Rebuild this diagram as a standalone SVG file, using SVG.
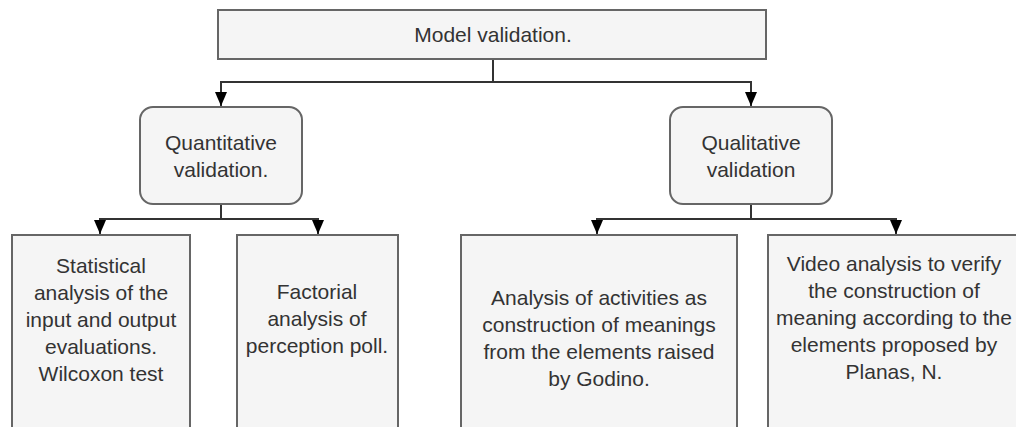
<svg xmlns="http://www.w3.org/2000/svg" width="1016" height="427" viewBox="0 0 1016 427">
<defs>
<style>
.box{fill:#f5f5f5;stroke:#666;stroke-width:2}
.t{font-family:"Liberation Sans",Arial,sans-serif;font-size:21px;fill:#333;text-anchor:middle}
.c{fill:none;stroke:#333;stroke-width:2}
</style>
<marker id="ah" viewBox="0 0 14 12" refX="14" refY="6" markerWidth="14" markerHeight="12" markerUnits="userSpaceOnUse" orient="auto">
<path d="M0,0 L14,6 L0,12 z" fill="#000"/>
</marker>
</defs>
<g id="connectors">
<path class="c" d="M493,59 V82"/>
<path class="c" d="M493,82 H221 V106" marker-end="url(#ah)"/>
<path class="c" d="M493,82 H751 V106" marker-end="url(#ah)"/>
<path class="c" d="M221,204 V219"/>
<path class="c" d="M221,219 H100 V234" marker-end="url(#ah)"/>
<path class="c" d="M221,219 H318 V234" marker-end="url(#ah)"/>
<path class="c" d="M751,204 V219"/>
<path class="c" d="M751,219 H597 V234" marker-end="url(#ah)"/>
<path class="c" d="M751,219 H896 V234" marker-end="url(#ah)"/>
</g>
<g id="model">
<rect class="box" x="218" y="10" width="548" height="49"/>
<text class="t" x="493" y="42">Model validation.</text>
</g>
<g id="quant">
<rect class="box" x="140" y="107" width="162" height="97" rx="13"/>
<text class="t" x="221" y="150">Quantitative</text>
<text class="t" x="221" y="177">validation.</text>
</g>
<g id="qual">
<rect class="box" x="670" y="107" width="162" height="97" rx="13"/>
<text class="t" x="751" y="150">Qualitative</text>
<text class="t" x="751" y="177">validation</text>
</g>
<g id="stat">
<rect class="box" x="12" y="235" width="178" height="200"/>
<text class="t" x="101" y="273">Statistical</text>
<text class="t" x="101" y="300">analysis of the</text>
<text class="t" x="101" y="327">input and output</text>
<text class="t" x="101" y="354">evaluations.</text>
<text class="t" x="101" y="381">Wilcoxon test</text>
</g>
<g id="fact">
<rect class="box" x="237" y="235" width="161" height="200"/>
<text class="t" x="317" y="299">Factorial</text>
<text class="t" x="317" y="326">analysis of</text>
<text class="t" x="317" y="353">perception poll.</text>
</g>
<g id="godino">
<rect class="box" x="461" y="235" width="276" height="200"/>
<text class="t" x="599" y="305">Analysis of activities as</text>
<text class="t" x="599" y="332">construction of meanings</text>
<text class="t" x="599" y="359">from the elements raised</text>
<text class="t" x="599" y="386">by Godino.</text>
</g>
<g id="planas">
<rect class="box" x="768" y="235" width="260" height="200"/>
<text class="t" x="894" y="271">Video analysis to verify</text>
<text class="t" x="894" y="298">the construction of</text>
<text class="t" x="894" y="325">meaning according to the</text>
<text class="t" x="894" y="352">elements proposed by</text>
<text class="t" x="894" y="379">Planas, N.</text>
</g>
</svg>
